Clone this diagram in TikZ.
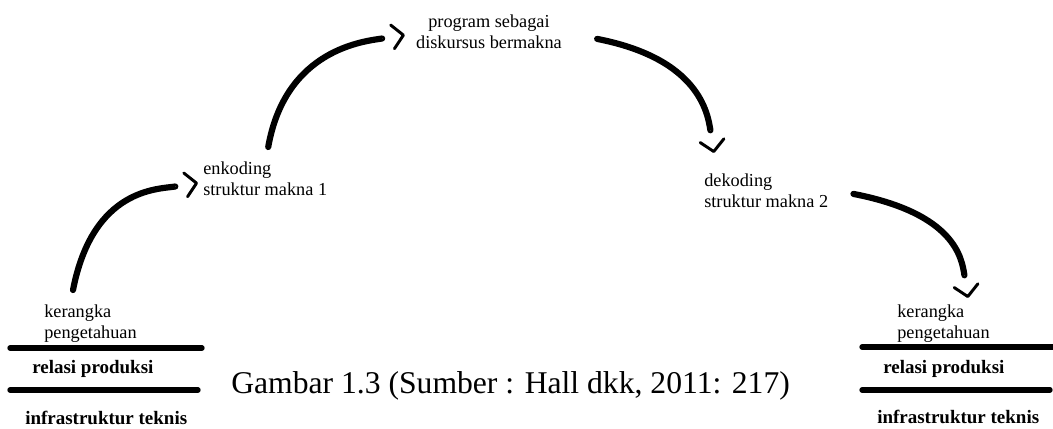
\documentclass[tikz,border=0pt]{standalone}
\usepackage{fontspec}
\setmainfont{Liberation Serif}
\usetikzlibrary{arrows.meta}

\tikzset{
    lbl/.style={anchor=north west, inner sep=0pt, align=left,
        font=\fontsize{13}{14.5}\selectfont},
    boldlbl/.style={anchor=base west, inner sep=0pt,
        font=\fontsize{13.5}{15}\selectfont\bfseries},
    bar/.style={line width=3.8pt, line cap=round},
    flow/.style={line width=4.4pt, line cap=round, out distance=2.6cm, in distance=1cm,
        -{Straight Barb[length=0.1pt, width=0.1pt, line width=0.1pt, white, sep=0.22cm].
          Straight Barb[length=0.275cm, width=0.6cm, line width=2.1pt, round]}}
}

\begin{document}
\begin{tikzpicture}[x=0.025cm, y=0.025cm]
    \useasboundingbox (0,0) rectangle (1053,-428);

    % left stack
    \node[lbl] (kerL) at (44,-305) {kerangka\\pengetahuan};
    \node[boldlbl] (relL) at (32,-373) {relasi produksi};
    \node[boldlbl] (infL) at (25,-424) {infrastruktur teknis};
    \draw[bar] (10,-348) -- (202,-348);
    \draw[bar] (10,-390) -- (198,-390);

    % middle
    \node[lbl] (enk) at (203,-162) {enkoding\\struktur makna 1};
    \node[lbl, anchor=north, align=center] (prog) at (489,-15) {program sebagai\\diskursus bermakna};
    \node[lbl] (dek) at (704,-174) {dekoding\\struktur makna 2};

    % right stack
    \node[lbl] (kerR) at (897,-305) {kerangka\\pengetahuan};
    \node[boldlbl] (relR) at (883,-373) {relasi produksi};
    \node[boldlbl] (infR) at (877,-423) {infrastruktur teknis};
    \draw[bar] (862,-347) -- (1053,-347);
    \draw[bar] (862,-390) -- (1050,-390);

    % caption
    \node[anchor=base west, inner sep=0pt, font=\fontsize{22.5}{27}\selectfont] (cap) at (231,-393)
        {Gambar 1.3 (Sumber : Hall dkk, 2011: 217)};

    % flows
    \draw[flow] ([xshift=0.725cm, yshift=0.375cm]kerL.north west)
        to[out=79, in=189] ([xshift=-0.125cm, yshift=-0.1cm]enk.west);
    \draw[flow] ([xshift=0.075cm, yshift=0.375cm]enk.north)
        to[out=80, out distance=2.5cm, in=189] ([xshift=-0.275cm, yshift=-0.075cm]prog.west);
    \draw[flow] ([xshift=0.875cm, yshift=-0.175cm]prog.east)
        to[out=-11, in=99] ([xshift=0.25cm, yshift=0.525cm]dek.north west);
    \draw[flow] ([xshift=0.625cm, yshift=-0.075cm]dek.east)
        to[out=-11, in=99] ([xshift=1.775cm, yshift=0.175cm]kerR.north west);
\end{tikzpicture}
\end{document}
